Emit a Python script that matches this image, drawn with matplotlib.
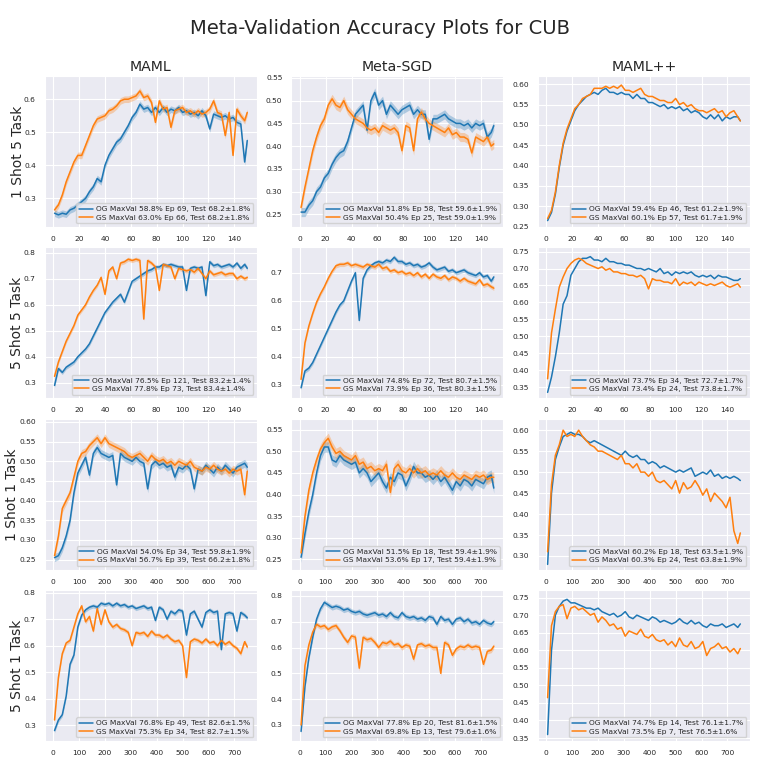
import matplotlib
matplotlib.use("Agg")
import matplotlib.pyplot as plt
import numpy as np
import seaborn as sns
from matplotlib.ticker import MultipleLocator

sns.set_style("darkgrid")
plt.rcParams["font.family"] = ["DejaVu Sans"]

EPOCHS_150 = [1, 4, 7, 10, 13, 16, 19, 22, 25, 28,
              31, 34, 37, 40, 43, 46, 49, 52, 55, 58,
              61, 64, 67, 70, 73, 76, 79, 82, 85, 88,
              91, 94, 97, 100, 103, 106, 109, 112, 115, 118,
              121, 124, 127, 130, 133, 136, 139, 142, 145, 148,
              150]
EPOCHS_750 = [5, 20, 35, 50, 65, 80, 95, 110, 125, 140,
              155, 170, 185, 200, 215, 230, 245, 260, 275, 290,
              305, 320, 335, 350, 365, 380, 395, 410, 425, 440,
              455, 470, 485, 500, 515, 530, 545, 560, 575, 590,
              605, 620, 635, 650, 665, 680, 695, 710, 725, 740,
              750]

MODELS = ["MAML", "Meta-SGD", "MAML++"]
TASKS = ["1 Shot 5 Task", "5 Shot 5 Task", "1 Shot 1 Task", "5 Shot 1 Task"]

# ---- 1 shot 5 task ----
MAML_1S5T_OG = [0.255, 0.25, 0.255, 0.252, 0.265, 0.27, 0.28, 0.29, 0.30, 0.32,
                0.335, 0.36, 0.35, 0.40, 0.43, 0.45, 0.47, 0.48, 0.50, 0.52,
                0.545, 0.56, 0.585, 0.57, 0.575, 0.56, 0.575, 0.56, 0.575, 0.56,
                0.57, 0.565, 0.575, 0.56, 0.565, 0.555, 0.56, 0.55, 0.565, 0.55,
                0.51, 0.555, 0.55, 0.545, 0.55, 0.54, 0.545, 0.53, 0.525, 0.41,
                0.475]
MAML_1S5T_GS = [0.265, 0.28, 0.31, 0.35, 0.38, 0.41, 0.43, 0.43, 0.46, 0.49,
                0.52, 0.54, 0.545, 0.55, 0.565, 0.57, 0.58, 0.595, 0.60, 0.60,
                0.605, 0.61, 0.625, 0.605, 0.61, 0.59, 0.53, 0.595, 0.57, 0.575,
                0.515, 0.565, 0.57, 0.575, 0.56, 0.565, 0.555, 0.565, 0.555, 0.56,
                0.57, 0.595, 0.56, 0.555, 0.49, 0.56, 0.43, 0.57, 0.55, 0.535,
                0.56]
SGD_1S5T_OG = [0.255, 0.255, 0.27, 0.28, 0.30, 0.31, 0.33, 0.34, 0.36, 0.375,
               0.385, 0.39, 0.41, 0.44, 0.47, 0.48, 0.49, 0.435, 0.50, 0.518,
               0.49, 0.50, 0.47, 0.49, 0.48, 0.47, 0.48, 0.485, 0.49, 0.47,
               0.48, 0.47, 0.47, 0.415, 0.46, 0.46, 0.465, 0.47, 0.46, 0.455,
               0.45, 0.45, 0.445, 0.45, 0.44, 0.45, 0.445, 0.45, 0.42, 0.43,
               0.445]
SGD_1S5T_GS = [0.265, 0.31, 0.35, 0.39, 0.42, 0.445, 0.46, 0.49, 0.504, 0.49,
               0.485, 0.50, 0.48, 0.47, 0.46, 0.455, 0.45, 0.44, 0.435, 0.44,
               0.43, 0.445, 0.44, 0.435, 0.44, 0.43, 0.39, 0.445, 0.44, 0.39,
               0.46, 0.475, 0.46, 0.45, 0.445, 0.44, 0.435, 0.43, 0.44, 0.425,
               0.43, 0.42, 0.42, 0.415, 0.385, 0.42, 0.415, 0.41, 0.42, 0.40,
               0.405]
PP_1S5T_OG = [0.265, 0.285, 0.33, 0.395, 0.45, 0.485, 0.51, 0.535, 0.55, 0.56,
              0.57, 0.575, 0.58, 0.575, 0.585, 0.59, 0.58, 0.58, 0.575, 0.58,
              0.575, 0.575, 0.565, 0.575, 0.565, 0.565, 0.555, 0.555, 0.55, 0.545,
              0.55, 0.54, 0.545, 0.54, 0.545, 0.535, 0.54, 0.53, 0.535, 0.53,
              0.52, 0.515, 0.525, 0.515, 0.525, 0.51, 0.52, 0.515, 0.52, 0.52,
              0.51]
PP_1S5T_GS = [0.27, 0.29, 0.335, 0.40, 0.455, 0.49, 0.515, 0.54, 0.55, 0.565,
              0.57, 0.575, 0.59, 0.59, 0.59, 0.595, 0.59, 0.595, 0.59, 0.598,
              0.585, 0.585, 0.58, 0.585, 0.59, 0.575, 0.57, 0.57, 0.565, 0.56,
              0.56, 0.555, 0.555, 0.565, 0.55, 0.555, 0.545, 0.55, 0.54, 0.535,
              0.535, 0.53, 0.535, 0.54, 0.53, 0.535, 0.52, 0.53, 0.535, 0.52,
              0.51]

# ---- 5 shot 5 task ----
MAML_5S5T_OG = [0.29, 0.355, 0.34, 0.36, 0.37, 0.38, 0.40, 0.415, 0.43, 0.45,
                0.48, 0.51, 0.54, 0.57, 0.59, 0.61, 0.625, 0.64, 0.61, 0.65,
                0.69, 0.70, 0.71, 0.72, 0.73, 0.735, 0.745, 0.745, 0.755, 0.75,
                0.755, 0.75, 0.745, 0.745, 0.655, 0.74, 0.745, 0.74, 0.745, 0.635,
                0.765, 0.75, 0.755, 0.745, 0.75, 0.755, 0.745, 0.76, 0.74, 0.755,
                0.74]
MAML_5S5T_GS = [0.325, 0.38, 0.42, 0.46, 0.49, 0.52, 0.56, 0.58, 0.60, 0.63,
                0.655, 0.675, 0.705, 0.64, 0.73, 0.745, 0.70, 0.76, 0.765, 0.775,
                0.77, 0.775, 0.77, 0.545, 0.77, 0.76, 0.745, 0.655, 0.755, 0.75,
                0.745, 0.70, 0.74, 0.735, 0.73, 0.735, 0.725, 0.74, 0.72, 0.70,
                0.73, 0.715, 0.72, 0.725, 0.715, 0.72, 0.72, 0.70, 0.71, 0.70,
                0.705]
SGD_5S5T_OG = [0.29, 0.35, 0.36, 0.38, 0.41, 0.44, 0.47, 0.50, 0.53, 0.56,
               0.585, 0.60, 0.635, 0.67, 0.70, 0.53, 0.68, 0.71, 0.725, 0.735,
               0.74, 0.735, 0.745, 0.74, 0.755, 0.74, 0.74, 0.73, 0.735, 0.725,
               0.73, 0.72, 0.725, 0.735, 0.72, 0.71, 0.715, 0.72, 0.705, 0.71,
               0.70, 0.705, 0.71, 0.70, 0.695, 0.69, 0.70, 0.685, 0.69, 0.67,
               0.685]
SGD_5S5T_GS = [0.32, 0.45, 0.51, 0.555, 0.595, 0.625, 0.65, 0.68, 0.705, 0.725,
               0.73, 0.73, 0.735, 0.725, 0.73, 0.725, 0.72, 0.73, 0.725, 0.72,
               0.73, 0.715, 0.72, 0.705, 0.71, 0.70, 0.705, 0.695, 0.70, 0.69,
               0.70, 0.685, 0.695, 0.68, 0.695, 0.685, 0.68, 0.69, 0.675, 0.685,
               0.68, 0.67, 0.68, 0.67, 0.665, 0.66, 0.675, 0.655, 0.66, 0.65,
               0.645]
PP_5S5T_OG = [0.335, 0.38, 0.44, 0.51, 0.595, 0.62, 0.68, 0.70, 0.72, 0.73,
              0.73, 0.735, 0.725, 0.725, 0.72, 0.73, 0.72, 0.72, 0.715, 0.715,
              0.71, 0.71, 0.705, 0.70, 0.70, 0.695, 0.70, 0.695, 0.69, 0.70,
              0.685, 0.69, 0.68, 0.69, 0.685, 0.69, 0.685, 0.69, 0.68, 0.675,
              0.68, 0.675, 0.68, 0.67, 0.68, 0.675, 0.675, 0.67, 0.665, 0.665,
              0.67]
PP_5S5T_GS = [0.375, 0.51, 0.58, 0.645, 0.675, 0.70, 0.715, 0.725, 0.73, 0.725,
              0.715, 0.71, 0.705, 0.70, 0.705, 0.695, 0.70, 0.69, 0.69, 0.685,
              0.685, 0.68, 0.68, 0.675, 0.68, 0.67, 0.64, 0.67, 0.665, 0.665,
              0.66, 0.66, 0.655, 0.67, 0.65, 0.66, 0.655, 0.66, 0.65, 0.66,
              0.655, 0.65, 0.655, 0.65, 0.655, 0.66, 0.65, 0.645, 0.65, 0.655,
              0.645]

# ---- 1 shot 1 task ----
MAML_1S1T_OG = [0.255, 0.26, 0.28, 0.31, 0.35, 0.42, 0.47, 0.49, 0.51, 0.465,
                0.52, 0.535, 0.52, 0.515, 0.51, 0.515, 0.44, 0.52, 0.51, 0.505,
                0.50, 0.51, 0.50, 0.495, 0.43, 0.49, 0.50, 0.49, 0.495, 0.485,
                0.49, 0.46, 0.485, 0.48, 0.49, 0.48, 0.43, 0.48, 0.475, 0.49,
                0.48, 0.47, 0.485, 0.475, 0.49, 0.48, 0.47, 0.485, 0.49, 0.495,
                0.485]
MAML_1S1T_GS = [0.26, 0.31, 0.38, 0.40, 0.42, 0.46, 0.50, 0.52, 0.525, 0.54,
                0.55, 0.56, 0.545, 0.56, 0.545, 0.54, 0.535, 0.53, 0.525, 0.515,
                0.51, 0.515, 0.52, 0.51, 0.50, 0.515, 0.505, 0.50, 0.505, 0.495,
                0.50, 0.49, 0.50, 0.495, 0.49, 0.50, 0.485, 0.48, 0.475, 0.485,
                0.48, 0.49, 0.48, 0.475, 0.48, 0.47, 0.48, 0.475, 0.48, 0.415,
                0.475]
SGD_1S1T_OG = [0.255, 0.31, 0.36, 0.40, 0.45, 0.49, 0.51, 0.51, 0.48, 0.475,
               0.49, 0.48, 0.475, 0.47, 0.475, 0.45, 0.46, 0.45, 0.43, 0.44,
               0.45, 0.43, 0.415, 0.44, 0.43, 0.45, 0.445, 0.42, 0.44, 0.465,
               0.45, 0.45, 0.44, 0.445, 0.435, 0.445, 0.43, 0.44, 0.425, 0.41,
               0.43, 0.42, 0.435, 0.43, 0.42, 0.435, 0.43, 0.425, 0.44, 0.445,
               0.415]
SGD_1S1T_GS = [0.265, 0.35, 0.41, 0.45, 0.48, 0.505, 0.52, 0.53, 0.51, 0.495,
               0.50, 0.49, 0.485, 0.48, 0.49, 0.47, 0.475, 0.46, 0.465, 0.455,
               0.46, 0.455, 0.47, 0.405, 0.46, 0.47, 0.455, 0.45, 0.46, 0.45,
               0.46, 0.45, 0.455, 0.445, 0.45, 0.445, 0.455, 0.445, 0.44, 0.45,
               0.44, 0.435, 0.445, 0.44, 0.435, 0.445, 0.44, 0.445, 0.435, 0.44,
               0.44]
PP_1S1T_OG = [0.28, 0.45, 0.53, 0.56, 0.585, 0.59, 0.595, 0.59, 0.59, 0.585,
              0.575, 0.57, 0.575, 0.57, 0.565, 0.56, 0.555, 0.55, 0.545, 0.54,
              0.55, 0.54, 0.535, 0.54, 0.53, 0.53, 0.52, 0.525, 0.52, 0.51,
              0.515, 0.51, 0.505, 0.50, 0.505, 0.50, 0.505, 0.51, 0.49, 0.495,
              0.50, 0.495, 0.505, 0.49, 0.495, 0.485, 0.49, 0.485, 0.49, 0.485,
              0.48]
PP_1S1T_GS = [0.31, 0.47, 0.54, 0.565, 0.60, 0.585, 0.59, 0.585, 0.60, 0.585,
              0.575, 0.565, 0.56, 0.55, 0.55, 0.545, 0.54, 0.535, 0.53, 0.54,
              0.52, 0.52, 0.51, 0.52, 0.50, 0.50, 0.49, 0.50, 0.48, 0.475,
              0.48, 0.47, 0.46, 0.48, 0.45, 0.475, 0.46, 0.465, 0.48, 0.465,
              0.445, 0.46, 0.43, 0.45, 0.44, 0.43, 0.415, 0.44, 0.36, 0.33,
              0.355]

# ---- 5 shot 1 task ----
MAML_5S1T_OG = [0.28, 0.32, 0.34, 0.41, 0.53, 0.565, 0.67, 0.715, 0.735, 0.745,
                0.75, 0.745, 0.76, 0.755, 0.76, 0.75, 0.76, 0.75, 0.755, 0.745,
                0.75, 0.74, 0.745, 0.75, 0.74, 0.745, 0.695, 0.745, 0.735, 0.70,
                0.73, 0.72, 0.735, 0.73, 0.64, 0.72, 0.73, 0.70, 0.67, 0.725,
                0.735, 0.725, 0.73, 0.585, 0.72, 0.725, 0.72, 0.655, 0.725, 0.715,
                0.705]
MAML_5S1T_GS = [0.32, 0.48, 0.57, 0.61, 0.62, 0.67, 0.72, 0.75, 0.69, 0.71,
                0.655, 0.74, 0.68, 0.735, 0.69, 0.67, 0.68, 0.665, 0.66, 0.65,
                0.60, 0.65, 0.645, 0.65, 0.635, 0.655, 0.64, 0.64, 0.63, 0.64,
                0.625, 0.615, 0.62, 0.60, 0.48, 0.615, 0.625, 0.62, 0.61, 0.625,
                0.61, 0.615, 0.60, 0.62, 0.605, 0.615, 0.60, 0.59, 0.57, 0.615,
                0.595]
SGD_5S1T_OG = [0.275, 0.45, 0.56, 0.64, 0.71, 0.75, 0.775, 0.765, 0.755, 0.76,
               0.755, 0.745, 0.75, 0.74, 0.735, 0.74, 0.73, 0.725, 0.73, 0.735,
               0.725, 0.73, 0.72, 0.735, 0.72, 0.715, 0.735, 0.72, 0.715, 0.72,
               0.71, 0.715, 0.705, 0.72, 0.715, 0.69, 0.72, 0.705, 0.71, 0.69,
               0.71, 0.715, 0.70, 0.71, 0.695, 0.70, 0.69, 0.705, 0.695, 0.69,
               0.70]
SGD_5S1T_GS = [0.30, 0.53, 0.61, 0.66, 0.69, 0.68, 0.685, 0.67, 0.68, 0.685,
               0.665, 0.64, 0.62, 0.645, 0.64, 0.52, 0.64, 0.63, 0.635, 0.62,
               0.60, 0.62, 0.615, 0.625, 0.61, 0.615, 0.60, 0.61, 0.605, 0.555,
               0.61, 0.615, 0.605, 0.61, 0.60, 0.60, 0.50, 0.62, 0.61, 0.57,
               0.595, 0.605, 0.60, 0.61, 0.60, 0.605, 0.60, 0.535, 0.585, 0.59,
               0.605]
PP_5S1T_OG = [0.36, 0.60, 0.70, 0.725, 0.74, 0.745, 0.735, 0.735, 0.73, 0.725,
              0.72, 0.72, 0.715, 0.72, 0.71, 0.705, 0.70, 0.705, 0.695, 0.70,
              0.71, 0.695, 0.69, 0.70, 0.695, 0.69, 0.685, 0.695, 0.69, 0.68,
              0.685, 0.68, 0.675, 0.68, 0.69, 0.68, 0.675, 0.685, 0.675, 0.68,
              0.67, 0.665, 0.675, 0.67, 0.67, 0.675, 0.665, 0.67, 0.675, 0.665,
              0.675]
PP_5S1T_GS = [0.465, 0.67, 0.71, 0.725, 0.73, 0.69, 0.72, 0.725, 0.715, 0.72,
              0.71, 0.70, 0.705, 0.68, 0.695, 0.685, 0.67, 0.675, 0.66, 0.665,
              0.64, 0.655, 0.65, 0.645, 0.66, 0.64, 0.635, 0.645, 0.63, 0.625,
              0.63, 0.615, 0.625, 0.61, 0.635, 0.615, 0.61, 0.625, 0.605, 0.61,
              0.625, 0.585, 0.605, 0.61, 0.62, 0.605, 0.61, 0.595, 0.605, 0.59,
              0.605]

OG_SERIES = [[MAML_1S5T_OG, SGD_1S5T_OG, PP_1S5T_OG],
             [MAML_5S5T_OG, SGD_5S5T_OG, PP_5S5T_OG],
             [MAML_1S1T_OG, SGD_1S1T_OG, PP_1S1T_OG],
             [MAML_5S1T_OG, SGD_5S1T_OG, PP_5S1T_OG]]
GS_SERIES = [[MAML_1S5T_GS, SGD_1S5T_GS, PP_1S5T_GS],
             [MAML_5S5T_GS, SGD_5S5T_GS, PP_5S5T_GS],
             [MAML_1S1T_GS, SGD_1S1T_GS, PP_1S1T_GS],
             [MAML_5S1T_GS, SGD_5S1T_GS, PP_5S1T_GS]]
ROW_EPOCHS = [EPOCHS_150, EPOCHS_150, EPOCHS_750, EPOCHS_750]

# confidence half-width (MAML++ runs have no visible band)
BAND = [[0.010, 0.010, 0.0],
        [0.008, 0.008, 0.0],
        [0.010, 0.012, 0.0],
        [0.008, 0.010, 0.0]]

OG_LABELS = [["OG MaxVal 58.8% Ep 69, Test 68.2±1.8%", "OG MaxVal 51.8% Ep 58, Test 59.6±1.9%", "OG MaxVal 59.4% Ep 46, Test 61.2±1.9%"],
             ["OG MaxVal 76.5% Ep 121, Test 83.2±1.4%", "OG MaxVal 74.8% Ep 72, Test 80.7±1.5%", "OG MaxVal 73.7% Ep 34, Test 72.7±1.7%"],
             ["OG MaxVal 54.0% Ep 34, Test 59.8±1.9%", "OG MaxVal 51.5% Ep 18, Test 59.4±1.9%", "OG MaxVal 60.2% Ep 18, Test 63.5±1.9%"],
             ["OG MaxVal 76.8% Ep 49, Test 82.6±1.5%", "OG MaxVal 77.8% Ep 20, Test 81.6±1.5%", "OG MaxVal 74.7% Ep 14, Test 76.1±1.7%"]]
GS_LABELS = [["GS MaxVal 63.0% Ep 66, Test 68.2±1.8%", "GS MaxVal 50.4% Ep 25, Test 59.0±1.9%", "GS MaxVal 60.1% Ep 57, Test 61.7±1.9%"],
             ["GS MaxVal 77.8% Ep 73, Test 83.4±1.4%", "GS MaxVal 73.9% Ep 36, Test 80.3±1.5%", "GS MaxVal 73.4% Ep 24, Test 73.8±1.7%"],
             ["GS MaxVal 56.7% Ep 39, Test 66.2±1.8%", "GS MaxVal 53.6% Ep 17, Test 59.4±1.9%", "GS MaxVal 60.3% Ep 24, Test 63.8±1.9%"],
             ["GS MaxVal 75.3% Ep 34, Test 82.7±1.5%", "GS MaxVal 69.8% Ep 13, Test 79.6±1.6%", "GS MaxVal 73.5% Ep 7, Test 76.5±1.6%"]]

# axis ranges / tick steps per panel
YLIMS = [[(0.213, 0.670), (0.222, 0.554), (0.249, 0.620)],
         [(0.240, 0.820), (0.252, 0.790), (0.317, 0.762)],
         [(0.224, 0.608), (0.226, 0.575), (0.267, 0.627)],
         [(0.240, 0.809), (0.237, 0.822), (0.341, 0.771)]]
YSTEPS = [[0.1, 0.05, 0.05],
          [0.1, 0.1, 0.05],
          [0.05, 0.05, 0.05],
          [0.1, 0.1, 0.05]]
XSTEPS = [20, 20, 100, 100]
YLABEL_X = [-0.095, -0.10, -0.12, -0.10]

OG_COLOR = "#1f77b4"
GS_COLOR = "#ff7f0e"

fig, axes = plt.subplots(4, 3, figsize=(7.61, 7.61), dpi=100)
fig.subplots_adjust(left=0.059, right=0.9855, bottom=0.026, top=0.900,
                    wspace=0.163, hspace=0.135)

for r in range(4):
    x = np.array(ROW_EPOCHS[r])
    for c in range(3):
        ax = axes[r, c]
        band = BAND[r][c]
        for ys, color, label in ((OG_SERIES[r][c], OG_COLOR, OG_LABELS[r][c]),
                                 (GS_SERIES[r][c], GS_COLOR, GS_LABELS[r][c])):
            y = np.array(ys)
            ax.plot(x, y, color=color, lw=1.1, label=label)
            if band > 0:
                ax.fill_between(x, y - band, y + band, color=color, alpha=0.3, lw=0)
        ax.set_ylim(*YLIMS[r][c])
        ax.yaxis.set_major_locator(MultipleLocator(YSTEPS[r][c]))
        ax.xaxis.set_major_locator(MultipleLocator(XSTEPS[r]))
        ax.tick_params(labelsize=5.4, pad=3)
        ax.legend(loc="lower right", fontsize=5.4, handlelength=1.9,
                  handletextpad=0.4, borderpad=0.35, labelspacing=0.3)
        if r == 0:
            ax.set_title(MODELS[c], fontsize=10.2, pad=4)
        if c == 0:
            ax.set_ylabel(TASKS[r], fontsize=10)
            ax.yaxis.set_label_coords(YLABEL_X[r], 0.5)

fig.suptitle("Meta-Validation Accuracy Plots for CUB", fontsize=14, y=0.975)
fig.savefig("out.png", dpi=100)
